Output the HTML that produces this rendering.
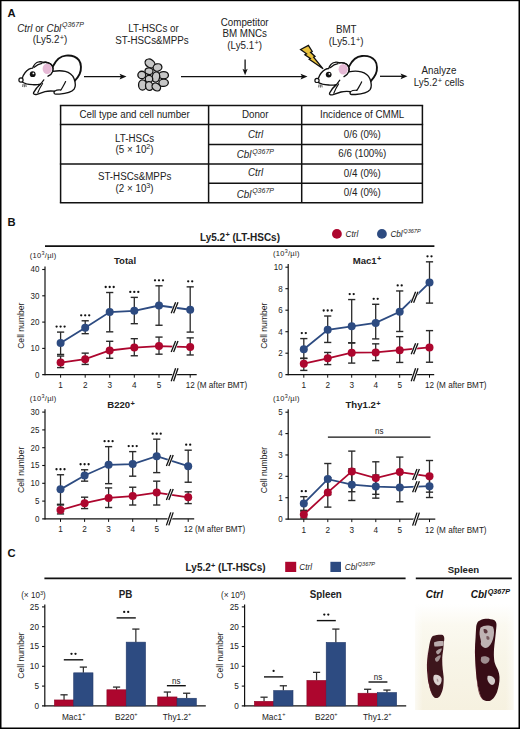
<!DOCTYPE html>
<html><head><meta charset="utf-8"><style>
html,body{margin:0;padding:0;background:#fff;width:520px;height:729px;overflow:hidden;}
body{position:relative;font-family:"Liberation Sans", sans-serif;}
</style></head><body>
<svg width="520" height="729" viewBox="0 0 520 729" style="position:absolute;left:0;top:0" font-family='"Liberation Sans", sans-serif'>
<rect x="0" y="0" width="520" height="729" fill="#fff"/>
<defs><filter id="pk" x="-30%" y="-30%" width="160%" height="160%"><feGaussianBlur stdDeviation="0.6"/></filter></defs>
<text transform="translate(7.4,17.2) scale(1,1.04)" x="0" y="0" font-size="11.2" text-anchor="start" font-weight="bold" font-style="normal" fill="#111" >A</text>
<text transform="translate(50.5,31.7) scale(1,1.04)" x="0" y="0" font-size="9.8" text-anchor="middle" font-weight="normal" font-style="normal" fill="#222" ><tspan font-style="italic">Ctrl</tspan> or <tspan font-style="italic">Cbl</tspan><tspan font-style="italic" font-size="7" dx="0.8" dy="-4.2">Q367P</tspan></text>
<text transform="translate(50,43.3) scale(1,1.04)" x="0" y="0" font-size="9.8" text-anchor="middle" font-weight="normal" font-style="normal" fill="#222" >(Ly5.2<tspan font-size="7.4" dx="0.3" dy="-3.2">+</tspan><tspan dy="3.2">)</tspan></text>
<text transform="translate(153.5,32.3) scale(1,1.04)" x="0" y="0" font-size="9.8" text-anchor="middle" font-weight="normal" font-style="normal" fill="#222" >LT-HSCs or</text>
<text transform="translate(152,43.8) scale(1,1.04)" x="0" y="0" font-size="9.8" text-anchor="middle" font-weight="normal" font-style="normal" fill="#222" >ST-HSCs&amp;MPPs</text>
<text transform="translate(244.7,25.8) scale(1,1.04)" x="0" y="0" font-size="9.8" text-anchor="middle" font-weight="normal" font-style="normal" fill="#222" >Competitor</text>
<text transform="translate(244.7,37.3) scale(1,1.04)" x="0" y="0" font-size="9.8" text-anchor="middle" font-weight="normal" font-style="normal" fill="#222" >BM MNCs</text>
<text transform="translate(244.7,48.8) scale(1,1.04)" x="0" y="0" font-size="9.8" text-anchor="middle" font-weight="normal" font-style="normal" fill="#222" >(Ly5.1<tspan font-size="7.4" dx="0.3" dy="-3.2">+</tspan><tspan dy="3.2">)</tspan></text>
<text transform="translate(346.2,33.2) scale(1,1.04)" x="0" y="0" font-size="9.8" text-anchor="middle" font-weight="normal" font-style="normal" fill="#222" >BMT</text>
<text transform="translate(346.2,44.9) scale(1,1.04)" x="0" y="0" font-size="9.8" text-anchor="middle" font-weight="normal" font-style="normal" fill="#222" >(Ly5.1<tspan font-size="7.4" dx="0.3" dy="-3.2">+</tspan><tspan dy="3.2">)</tspan></text>
<text transform="translate(439,73.7) scale(1,1.04)" x="0" y="0" font-size="9.8" text-anchor="middle" font-weight="normal" font-style="normal" fill="#222" >Analyze</text>
<text transform="translate(439,85.9) scale(1,1.04)" x="0" y="0" font-size="9.8" text-anchor="middle" font-weight="normal" font-style="normal" fill="#222" >Ly5.2<tspan font-size="7.4" dx="0.3" dy="-3.2">+</tspan><tspan dy="3.2"> cells</tspan></text>
<g transform="translate(0,0)" stroke="#111" stroke-linecap="round" stroke-linejoin="round">
<path d="M53.1,66 C56,60 61,56 66,55.6 C71,55.2 76,56.5 78.9,60.1 C81.5,63.5 81.5,70 79.7,73.8 C78.5,76.5 76.5,79 74.5,81.1" fill="none" stroke-width="1.9"/>
<path d="M22.3,78.1 C23.5,74.5 26,71 29,69.2 C30.5,68.4 31.8,68.1 32.7,68.1 C33.5,65.5 36,62.3 38.8,61.9 C40.5,61.6 42,61.8 43.5,62.5 C46.5,61.8 50.5,63 52.3,65.8 C53.3,67.5 53.2,70 52.7,71.4 C57,70.6 62,70.6 65.2,71.4 C68.5,72.2 72.5,75 74,78.5 C75.3,82 75.8,86.5 74.1,89.2 C72,91.8 66,93.6 59.5,94.1 L55.5,94.1 C54,94 53.6,92.5 54.5,91.2 C51,90.8 47.5,91 45,91.6 L37,94.3 C34.5,95 33,94 33.6,92.6 C35,90 37.5,86.5 40.4,84.2 C37.5,84.8 35,85 32.7,84.6 C29.5,84.3 27.5,84 26.5,83.8 C24.5,83.3 23,82.5 22.3,82 Z" fill="#fff" stroke-width="1.35"/>
<ellipse cx="47.2" cy="68.8" rx="4.6" ry="5.2" fill="#e5b9d5" stroke="none" filter="url(#pk)"/>
<path d="M43.5,62.5 C46.5,61.8 50.5,63 52.3,65.8 C53.3,67.5 53.2,70 52.7,71.4 C52,73.5 50,75.2 48,76.2" fill="none" stroke-width="1.35"/>
<path d="M34.2,67.3 C36.5,65.2 39.5,63.6 42,63.3" fill="none" stroke-width="1.2"/>
<path d="M40.4,84.2 C41.5,83 42.8,81.2 43.8,79.8" fill="none" stroke-width="1.2"/>
<path d="M42.6,83.5 C41,86 39.2,89 37.8,92.8" fill="none" stroke-width="1.1"/>
<path d="M65.6,81.5 C64.5,84 63.2,86 62.4,87.5 C61.8,88.6 61.2,89.4 60.8,90" fill="none" stroke-width="1.2"/>
<path d="M54.5,91.2 C56,90.3 58.5,89.6 60.8,90" fill="none" stroke-width="1.1"/>
<circle cx="32.7" cy="74.2" r="2.9" fill="#111" stroke="none"/>
<circle cx="33.4" cy="73.4" r="0.9" fill="#fff" stroke="none"/>
<circle cx="21" cy="80" r="2.1" fill="#fff" stroke-width="1.2"/>
<path d="M23,84.4 L22.7,86.6 M24.4,84.6 L24.4,86.8 M25.8,84.6 L26.1,86.6" fill="none" stroke-width="0.8" stroke="#333"/>
</g>
<g transform="translate(296,0.4)" stroke="#111" stroke-linecap="round" stroke-linejoin="round">
<path d="M53.1,66 C56,60 61,56 66,55.6 C71,55.2 76,56.5 78.9,60.1 C81.5,63.5 81.5,70 79.7,73.8 C78.5,76.5 76.5,79 74.5,81.1" fill="none" stroke-width="1.9"/>
<path d="M22.3,78.1 C23.5,74.5 26,71 29,69.2 C30.5,68.4 31.8,68.1 32.7,68.1 C33.5,65.5 36,62.3 38.8,61.9 C40.5,61.6 42,61.8 43.5,62.5 C46.5,61.8 50.5,63 52.3,65.8 C53.3,67.5 53.2,70 52.7,71.4 C57,70.6 62,70.6 65.2,71.4 C68.5,72.2 72.5,75 74,78.5 C75.3,82 75.8,86.5 74.1,89.2 C72,91.8 66,93.6 59.5,94.1 L55.5,94.1 C54,94 53.6,92.5 54.5,91.2 C51,90.8 47.5,91 45,91.6 L37,94.3 C34.5,95 33,94 33.6,92.6 C35,90 37.5,86.5 40.4,84.2 C37.5,84.8 35,85 32.7,84.6 C29.5,84.3 27.5,84 26.5,83.8 C24.5,83.3 23,82.5 22.3,82 Z" fill="#fff" stroke-width="1.35"/>
<ellipse cx="47.2" cy="68.8" rx="4.6" ry="5.2" fill="#e5b9d5" stroke="none" filter="url(#pk)"/>
<path d="M43.5,62.5 C46.5,61.8 50.5,63 52.3,65.8 C53.3,67.5 53.2,70 52.7,71.4 C52,73.5 50,75.2 48,76.2" fill="none" stroke-width="1.35"/>
<path d="M34.2,67.3 C36.5,65.2 39.5,63.6 42,63.3" fill="none" stroke-width="1.2"/>
<path d="M40.4,84.2 C41.5,83 42.8,81.2 43.8,79.8" fill="none" stroke-width="1.2"/>
<path d="M42.6,83.5 C41,86 39.2,89 37.8,92.8" fill="none" stroke-width="1.1"/>
<path d="M65.6,81.5 C64.5,84 63.2,86 62.4,87.5 C61.8,88.6 61.2,89.4 60.8,90" fill="none" stroke-width="1.2"/>
<path d="M54.5,91.2 C56,90.3 58.5,89.6 60.8,90" fill="none" stroke-width="1.1"/>
<circle cx="32.7" cy="74.2" r="2.9" fill="#111" stroke="none"/>
<circle cx="33.4" cy="73.4" r="0.9" fill="#fff" stroke="none"/>
<circle cx="21" cy="80" r="2.1" fill="#fff" stroke-width="1.2"/>
<path d="M23,84.4 L22.7,86.6 M24.4,84.6 L24.4,86.8 M25.8,84.6 L26.1,86.6" fill="none" stroke-width="0.8" stroke="#333"/>
</g>
<ellipse cx="150" cy="63.5" rx="5.25" ry="4.05" transform="rotate(35 150 63.5)" fill="#c6c6c6" stroke="#111" stroke-width="1.3"/>
<ellipse cx="157.5" cy="67.5" rx="4.45" ry="3.65" transform="rotate(-15 157.5 67.5)" fill="#c6c6c6" stroke="#111" stroke-width="1.3"/>
<ellipse cx="149" cy="71.2" rx="4.05" ry="3.35" transform="rotate(10 149 71.2)" fill="#c6c6c6" stroke="#111" stroke-width="1.3"/>
<ellipse cx="141.8" cy="75" rx="3.95" ry="3.75" transform="rotate(0 141.8 75)" fill="#c6c6c6" stroke="#111" stroke-width="1.3"/>
<ellipse cx="163.6" cy="75.2" rx="4.85" ry="3.65" transform="rotate(0 163.6 75.2)" fill="#c6c6c6" stroke="#111" stroke-width="1.3"/>
<ellipse cx="155.9" cy="77" rx="3.75" ry="5.25" transform="rotate(10 155.9 77)" fill="#c6c6c6" stroke="#111" stroke-width="1.3"/>
<ellipse cx="149" cy="79" rx="3.75" ry="3.65" transform="rotate(0 149 79)" fill="#c6c6c6" stroke="#111" stroke-width="1.3"/>
<ellipse cx="163.6" cy="82.8" rx="4.75" ry="3.65" transform="rotate(-5 163.6 82.8)" fill="#c6c6c6" stroke="#111" stroke-width="1.3"/>
<ellipse cx="142.5" cy="85" rx="3.95" ry="5.15" transform="rotate(0 142.5 85)" fill="#c6c6c6" stroke="#111" stroke-width="1.3"/>
<ellipse cx="149.2" cy="86" rx="3.65" ry="4.45" transform="rotate(-10 149.2 86)" fill="#c6c6c6" stroke="#111" stroke-width="1.3"/>
<ellipse cx="156.3" cy="87" rx="4.55" ry="3.55" transform="rotate(35 156.3 87)" fill="#c6c6c6" stroke="#111" stroke-width="1.3"/>
<line x1="84" y1="76.6" x2="121.5" y2="76.6" stroke="#111" stroke-width="1.3" />
<polygon points="126.5,76.6 119.5,73.69999999999999 121.0,76.6 119.5,79.5" fill="#111"/>
<line x1="181" y1="76.6" x2="302.5" y2="76.6" stroke="#111" stroke-width="1.3" />
<polygon points="307.5,76.6 300.5,73.69999999999999 302.0,76.6 300.5,79.5" fill="#111"/>
<line x1="245.1" y1="59.6" x2="245.1" y2="71.2" stroke="#111" stroke-width="1.3" />
<polygon points="245.1,75.2 242.5,68.7 245.1,70.2 247.7,68.7" fill="#111"/>
<line x1="380" y1="76.3" x2="402.5" y2="76.3" stroke="#111" stroke-width="1.3" />
<polygon points="407.5,76.3 400.5,73.39999999999999 402.0,76.3 400.5,79.2" fill="#111"/>
<polygon points="300.6,49.5 308.4,45.4 312.2,51.5 310.6,52.3 315,56.4 313.6,57.2 323.1,68.8 309.2,59.3 310.4,58.5 304.9,54.7 306.6,53.8" fill="#eac23c" stroke="#111" stroke-width="1.3" stroke-linejoin="miter"/>
<line x1="59.85" y1="105.4" x2="423.15" y2="105.4" stroke="#111" stroke-width="1.5" />
<line x1="59.85" y1="124.6" x2="423.15" y2="124.6" stroke="#111" stroke-width="1.5" />
<line x1="208.6" y1="144.4" x2="422.4" y2="144.4" stroke="#111" stroke-width="1.5" />
<line x1="59.85" y1="163.9" x2="423.15" y2="163.9" stroke="#111" stroke-width="1.5" />
<line x1="208.6" y1="183.3" x2="422.4" y2="183.3" stroke="#111" stroke-width="1.5" />
<line x1="59.85" y1="202.7" x2="423.15" y2="202.7" stroke="#111" stroke-width="1.5" />
<line x1="60.6" y1="105.4" x2="60.6" y2="202.7" stroke="#111" stroke-width="1.5" />
<line x1="208.6" y1="105.4" x2="208.6" y2="202.7" stroke="#111" stroke-width="1.5" />
<line x1="301.7" y1="105.4" x2="301.7" y2="202.7" stroke="#111" stroke-width="1.5" />
<line x1="422.4" y1="105.4" x2="422.4" y2="202.7" stroke="#111" stroke-width="1.5" />
<text transform="translate(134.6,118.4) scale(1,1.04)" x="0" y="0" font-size="9.8" text-anchor="middle" font-weight="normal" font-style="normal" fill="#222" >Cell type and cell number</text>
<text transform="translate(255.2,118.2) scale(1,1.04)" x="0" y="0" font-size="9.8" text-anchor="middle" font-weight="normal" font-style="normal" fill="#222" >Donor</text>
<text transform="translate(362.1,118.3) scale(1,1.04)" x="0" y="0" font-size="9.8" text-anchor="middle" font-weight="normal" font-style="normal" fill="#222" >Incidence of CMML</text>
<text transform="translate(134.6,141.5) scale(1,1.04)" x="0" y="0" font-size="9.8" text-anchor="middle" font-weight="normal" font-style="normal" fill="#222" >LT-HSCs</text>
<text transform="translate(134.6,152.9) scale(1,1.04)" x="0" y="0" font-size="9.8" text-anchor="middle" font-weight="normal" font-style="normal" fill="#222" >(5 × 10<tspan font-size="7.2" dy="-3.8">2</tspan><tspan dy="3.8">)</tspan></text>
<text transform="translate(134.6,180.4) scale(1,1.04)" x="0" y="0" font-size="9.8" text-anchor="middle" font-weight="normal" font-style="normal" fill="#222" >ST-HSCs&amp;MPPs</text>
<text transform="translate(134.6,191.9) scale(1,1.04)" x="0" y="0" font-size="9.8" text-anchor="middle" font-weight="normal" font-style="normal" fill="#222" >(2 × 10<tspan font-size="7.2" dy="-3.8">3</tspan><tspan dy="3.8">)</tspan></text>
<text transform="translate(255.6,138) scale(1,1.04)" x="0" y="0" font-size="9.8" text-anchor="middle" font-weight="normal" font-style="italic" fill="#222" >Ctrl</text>
<text transform="translate(255.6,176.4) scale(1,1.04)" x="0" y="0" font-size="9.8" text-anchor="middle" font-weight="normal" font-style="italic" fill="#222" >Ctrl</text>
<text transform="translate(255.3,158.3) scale(1,1.04)" x="0" y="0" font-size="9.8" text-anchor="middle" font-weight="normal" font-style="italic" fill="#222" >Cbl<tspan font-size="7" dx="0.8" dy="-4.4">Q367P</tspan></text>
<text transform="translate(255.3,197.7) scale(1,1.04)" x="0" y="0" font-size="9.8" text-anchor="middle" font-weight="normal" font-style="italic" fill="#222" >Cbl<tspan font-size="7" dx="0.8" dy="-4.4">Q367P</tspan></text>
<text transform="translate(362.3,137.5) scale(1,1.04)" x="0" y="0" font-size="9.8" text-anchor="middle" font-weight="normal" font-style="normal" fill="#222" >0/6 (0%)</text>
<text transform="translate(362.3,157.0) scale(1,1.04)" x="0" y="0" font-size="9.8" text-anchor="middle" font-weight="normal" font-style="normal" fill="#222" >6/6 (100%)</text>
<text transform="translate(362.3,176.8) scale(1,1.04)" x="0" y="0" font-size="9.8" text-anchor="middle" font-weight="normal" font-style="normal" fill="#222" >0/4 (0%)</text>
<text transform="translate(362.3,195.9) scale(1,1.04)" x="0" y="0" font-size="9.8" text-anchor="middle" font-weight="normal" font-style="normal" fill="#222" >0/4 (0%)</text>
<text transform="translate(7.6,225.6) scale(1,1.04)" x="0" y="0" font-size="11.2" text-anchor="start" font-weight="bold" font-style="normal" fill="#111" >B</text>
<line x1="45" y1="246.1" x2="434.4" y2="246.1" stroke="#111" stroke-width="1.7" />
<text transform="translate(240,240.8) scale(1,1.04)" x="0" y="0" font-size="10" text-anchor="middle" font-weight="bold" font-style="normal" fill="#222" >Ly5.2<tspan font-size="7.4" dx="0.2" dy="-3.4">+</tspan><tspan dy="3.4"> (LT-HSCs)</tspan></text>
<circle cx="336.9" cy="233.9" r="4.9" fill="#ad062e"/>
<circle cx="381.9" cy="233.9" r="4.9" fill="#2d4b81"/>
<text transform="translate(345.5,237.2) scale(1,1.04)" x="0" y="0" font-size="8.2" text-anchor="start" font-weight="normal" font-style="italic" fill="#222" >Ctrl</text>
<text transform="translate(390.4,237.2) scale(1,1.04)" x="0" y="0" font-size="8.2" text-anchor="start" font-weight="normal" font-style="italic" fill="#222" >Cbl<tspan font-size="5.6" dx="0.6" dy="-3.6">Q367P</tspan></text>
<line x1="45" y1="266.5" x2="45" y2="375.2" stroke="#111" stroke-width="1.2" />
<line x1="42.2" y1="374.7" x2="196.7" y2="374.7" stroke="#111" stroke-width="1.2" />
<text transform="translate(39.4,377.5) scale(1,1.04)" x="0" y="0" font-size="8" text-anchor="end" font-weight="normal" font-style="normal" fill="#222" >0</text>
<line x1="42.2" y1="348.4" x2="45" y2="348.4" stroke="#111" stroke-width="1.1" />
<text transform="translate(39.4,351.2) scale(1,1.04)" x="0" y="0" font-size="8" text-anchor="end" font-weight="normal" font-style="normal" fill="#222" >10</text>
<line x1="42.2" y1="322.1" x2="45" y2="322.1" stroke="#111" stroke-width="1.1" />
<text transform="translate(39.4,324.90000000000003) scale(1,1.04)" x="0" y="0" font-size="8" text-anchor="end" font-weight="normal" font-style="normal" fill="#222" >20</text>
<line x1="42.2" y1="295.8" x2="45" y2="295.8" stroke="#111" stroke-width="1.1" />
<text transform="translate(39.4,298.6) scale(1,1.04)" x="0" y="0" font-size="8" text-anchor="end" font-weight="normal" font-style="normal" fill="#222" >30</text>
<line x1="42.2" y1="269.5" x2="45" y2="269.5" stroke="#111" stroke-width="1.1" />
<text transform="translate(39.4,272.3) scale(1,1.04)" x="0" y="0" font-size="8" text-anchor="end" font-weight="normal" font-style="normal" fill="#222" >40</text>
<line x1="60.6" y1="374.7" x2="60.6" y2="377.7" stroke="#111" stroke-width="1" />
<line x1="85.2" y1="374.7" x2="85.2" y2="377.7" stroke="#111" stroke-width="1" />
<line x1="109.7" y1="374.7" x2="109.7" y2="377.7" stroke="#111" stroke-width="1" />
<line x1="134.3" y1="374.7" x2="134.3" y2="377.7" stroke="#111" stroke-width="1" />
<line x1="159" y1="374.7" x2="159" y2="377.7" stroke="#111" stroke-width="1" />
<line x1="190.2" y1="374.7" x2="190.2" y2="377.7" stroke="#111" stroke-width="1" />
<text transform="translate(60.6,388.09999999999997) scale(1,1.04)" x="0" y="0" font-size="8.2" text-anchor="middle" font-weight="normal" font-style="normal" fill="#222" >1</text>
<text transform="translate(85.2,388.09999999999997) scale(1,1.04)" x="0" y="0" font-size="8.2" text-anchor="middle" font-weight="normal" font-style="normal" fill="#222" >2</text>
<text transform="translate(109.7,388.09999999999997) scale(1,1.04)" x="0" y="0" font-size="8.2" text-anchor="middle" font-weight="normal" font-style="normal" fill="#222" >3</text>
<text transform="translate(134.3,388.09999999999997) scale(1,1.04)" x="0" y="0" font-size="8.2" text-anchor="middle" font-weight="normal" font-style="normal" fill="#222" >4</text>
<text transform="translate(159,388.09999999999997) scale(1,1.04)" x="0" y="0" font-size="8.2" text-anchor="middle" font-weight="normal" font-style="normal" fill="#222" >5</text>
<text transform="translate(185.79999999999998,388.09999999999997) scale(1,1.04)" x="0" y="0" font-size="8.15" text-anchor="start" font-weight="normal" font-style="normal" fill="#222" >12 (M after BMT)</text>
<polygon points="170.0,381.2 174.39999999999998,368.2 179.2,368.2 174.8,381.2" fill="white"/>
<line x1="171.20000000000002" y1="381.2" x2="175.6" y2="368.2" stroke="#111" stroke-width="1.3" />
<line x1="173.6" y1="381.2" x2="177.99999999999997" y2="368.2" stroke="#111" stroke-width="1.3" />
<text x="0" y="0" font-size="8.6" text-anchor="middle" fill="#222" transform="translate(23.7,325.7) rotate(-90) scale(1,1.04)">Cell number</text>
<text transform="translate(29.8,258.1) scale(1,1.04)" x="0" y="0" font-size="7.5" text-anchor="start" font-weight="normal" font-style="normal" fill="#222" letter-spacing="0.3">(10<tspan font-size="5.4" dy="-2.7">3</tspan><tspan dy="2.7">/µl)</tspan></text>
<text transform="translate(125,263.8) scale(1,1.04)" x="0" y="0" font-size="9.6" text-anchor="middle" font-weight="bold" font-style="normal" fill="#222" >Total</text>
<line x1="60.6" y1="356.027" x2="60.6" y2="367.599" stroke="#2a2a2a" stroke-width="1.3" />
<line x1="57.0" y1="356.027" x2="64.2" y2="356.027" stroke="#2a2a2a" stroke-width="1.4" />
<line x1="57.0" y1="367.599" x2="64.2" y2="367.599" stroke="#2a2a2a" stroke-width="1.4" />
<line x1="85.2" y1="353.134" x2="85.2" y2="364.443" stroke="#2a2a2a" stroke-width="1.3" />
<line x1="81.60000000000001" y1="353.134" x2="88.8" y2="353.134" stroke="#2a2a2a" stroke-width="1.4" />
<line x1="81.60000000000001" y1="364.443" x2="88.8" y2="364.443" stroke="#2a2a2a" stroke-width="1.4" />
<line x1="109.7" y1="341.299" x2="109.7" y2="358.2625" stroke="#2a2a2a" stroke-width="1.3" />
<line x1="106.10000000000001" y1="341.299" x2="113.3" y2="341.299" stroke="#2a2a2a" stroke-width="1.4" />
<line x1="106.10000000000001" y1="358.2625" x2="113.3" y2="358.2625" stroke="#2a2a2a" stroke-width="1.4" />
<line x1="134.3" y1="338.669" x2="134.3" y2="355.764" stroke="#2a2a2a" stroke-width="1.3" />
<line x1="130.70000000000002" y1="338.669" x2="137.9" y2="338.669" stroke="#2a2a2a" stroke-width="1.4" />
<line x1="130.70000000000002" y1="355.764" x2="137.9" y2="355.764" stroke="#2a2a2a" stroke-width="1.4" />
<line x1="159" y1="337.091" x2="159" y2="354.186" stroke="#2a2a2a" stroke-width="1.3" />
<line x1="155.4" y1="337.091" x2="162.6" y2="337.091" stroke="#2a2a2a" stroke-width="1.4" />
<line x1="155.4" y1="354.186" x2="162.6" y2="354.186" stroke="#2a2a2a" stroke-width="1.4" />
<line x1="190.2" y1="337.88" x2="190.2" y2="354.97499999999997" stroke="#2a2a2a" stroke-width="1.3" />
<line x1="186.6" y1="337.88" x2="193.79999999999998" y2="337.88" stroke="#2a2a2a" stroke-width="1.4" />
<line x1="186.6" y1="354.97499999999997" x2="193.79999999999998" y2="354.97499999999997" stroke="#2a2a2a" stroke-width="1.4" />
<line x1="60.6" y1="332.094" x2="60.6" y2="354.449" stroke="#2a2a2a" stroke-width="1.3" />
<line x1="57.0" y1="332.094" x2="64.2" y2="332.094" stroke="#2a2a2a" stroke-width="1.4" />
<line x1="57.0" y1="354.449" x2="64.2" y2="354.449" stroke="#2a2a2a" stroke-width="1.4" />
<line x1="85.2" y1="320.78499999999997" x2="85.2" y2="333.67199999999997" stroke="#2a2a2a" stroke-width="1.3" />
<line x1="81.60000000000001" y1="320.78499999999997" x2="88.8" y2="320.78499999999997" stroke="#2a2a2a" stroke-width="1.4" />
<line x1="81.60000000000001" y1="333.67199999999997" x2="88.8" y2="333.67199999999997" stroke="#2a2a2a" stroke-width="1.4" />
<line x1="109.7" y1="292.5125" x2="109.7" y2="331.831" stroke="#2a2a2a" stroke-width="1.3" />
<line x1="106.10000000000001" y1="292.5125" x2="113.3" y2="292.5125" stroke="#2a2a2a" stroke-width="1.4" />
<line x1="106.10000000000001" y1="331.831" x2="113.3" y2="331.831" stroke="#2a2a2a" stroke-width="1.4" />
<line x1="134.3" y1="297.378" x2="134.3" y2="323.678" stroke="#2a2a2a" stroke-width="1.3" />
<line x1="130.70000000000002" y1="297.378" x2="137.9" y2="297.378" stroke="#2a2a2a" stroke-width="1.4" />
<line x1="130.70000000000002" y1="323.678" x2="137.9" y2="323.678" stroke="#2a2a2a" stroke-width="1.4" />
<line x1="159" y1="285.806" x2="159" y2="325.256" stroke="#2a2a2a" stroke-width="1.3" />
<line x1="155.4" y1="285.806" x2="162.6" y2="285.806" stroke="#2a2a2a" stroke-width="1.4" />
<line x1="155.4" y1="325.256" x2="162.6" y2="325.256" stroke="#2a2a2a" stroke-width="1.4" />
<line x1="190.2" y1="286.858" x2="190.2" y2="332.094" stroke="#2a2a2a" stroke-width="1.3" />
<line x1="186.6" y1="286.858" x2="193.79999999999998" y2="286.858" stroke="#2a2a2a" stroke-width="1.4" />
<line x1="186.6" y1="332.094" x2="193.79999999999998" y2="332.094" stroke="#2a2a2a" stroke-width="1.4" />
<polyline points="60.6,362.602 85.2,359.183 109.7,350.504 134.3,347.611 159,346.033 190.2,347.085" fill="none" stroke="#ad062e" stroke-width="1.8"/>
<polygon points="170.0,352.05899999999997 174.39999999999998,341.05899999999997 179.2,341.05899999999997 174.8,352.05899999999997" fill="white"/>
<line x1="171.20000000000002" y1="352.05899999999997" x2="175.6" y2="341.05899999999997" stroke="#111" stroke-width="1.3" />
<line x1="173.6" y1="352.05899999999997" x2="177.99999999999997" y2="341.05899999999997" stroke="#111" stroke-width="1.3" />
<circle cx="60.6" cy="362.602" r="4" fill="#ad062e"/>
<circle cx="85.2" cy="359.183" r="4" fill="#ad062e"/>
<circle cx="109.7" cy="350.504" r="4" fill="#ad062e"/>
<circle cx="134.3" cy="347.611" r="4" fill="#ad062e"/>
<circle cx="159" cy="346.033" r="4" fill="#ad062e"/>
<circle cx="190.2" cy="347.085" r="4" fill="#ad062e"/>
<polyline points="60.6,343.00849999999997 85.2,327.7545 109.7,312.106 134.3,310.791 159,305.531 190.2,309.739" fill="none" stroke="#2d4b81" stroke-width="1.8"/>
<polygon points="170.0,313.135 174.39999999999998,302.135 179.2,302.135 174.8,313.135" fill="white"/>
<line x1="171.20000000000002" y1="313.135" x2="175.6" y2="302.135" stroke="#111" stroke-width="1.3" />
<line x1="173.6" y1="313.135" x2="177.99999999999997" y2="302.135" stroke="#111" stroke-width="1.3" />
<circle cx="60.6" cy="343.00849999999997" r="4" fill="#2d4b81"/>
<circle cx="85.2" cy="327.7545" r="4" fill="#2d4b81"/>
<circle cx="109.7" cy="312.106" r="4" fill="#2d4b81"/>
<circle cx="134.3" cy="310.791" r="4" fill="#2d4b81"/>
<circle cx="159" cy="305.531" r="4" fill="#2d4b81"/>
<circle cx="190.2" cy="309.739" r="4" fill="#2d4b81"/>
<circle cx="56.60" cy="326.59" r="1.15" fill="#111"/>
<circle cx="60.60" cy="326.59" r="1.15" fill="#111"/>
<circle cx="64.60" cy="326.59" r="1.15" fill="#111"/>
<circle cx="81.20" cy="315.28" r="1.15" fill="#111"/>
<circle cx="85.20" cy="315.28" r="1.15" fill="#111"/>
<circle cx="89.20" cy="315.28" r="1.15" fill="#111"/>
<circle cx="105.70" cy="287.01" r="1.15" fill="#111"/>
<circle cx="109.70" cy="287.01" r="1.15" fill="#111"/>
<circle cx="113.70" cy="287.01" r="1.15" fill="#111"/>
<circle cx="130.30" cy="291.88" r="1.15" fill="#111"/>
<circle cx="134.30" cy="291.88" r="1.15" fill="#111"/>
<circle cx="138.30" cy="291.88" r="1.15" fill="#111"/>
<circle cx="155.00" cy="280.31" r="1.15" fill="#111"/>
<circle cx="159.00" cy="280.31" r="1.15" fill="#111"/>
<circle cx="163.00" cy="280.31" r="1.15" fill="#111"/>
<circle cx="188.20" cy="281.36" r="1.15" fill="#111"/>
<circle cx="192.20" cy="281.36" r="1.15" fill="#111"/>
<line x1="288.2" y1="264.1" x2="288.2" y2="375.2" stroke="#111" stroke-width="1.2" />
<line x1="285.4" y1="374.7" x2="434.2" y2="374.7" stroke="#111" stroke-width="1.2" />
<text transform="translate(282.59999999999997,377.5) scale(1,1.04)" x="0" y="0" font-size="8" text-anchor="end" font-weight="normal" font-style="normal" fill="#222" >0</text>
<line x1="285.4" y1="353.2" x2="288.2" y2="353.2" stroke="#111" stroke-width="1.1" />
<text transform="translate(282.59999999999997,356.0) scale(1,1.04)" x="0" y="0" font-size="8" text-anchor="end" font-weight="normal" font-style="normal" fill="#222" >2</text>
<line x1="285.4" y1="331.7" x2="288.2" y2="331.7" stroke="#111" stroke-width="1.1" />
<text transform="translate(282.59999999999997,334.5) scale(1,1.04)" x="0" y="0" font-size="8" text-anchor="end" font-weight="normal" font-style="normal" fill="#222" >4</text>
<line x1="285.4" y1="310.2" x2="288.2" y2="310.2" stroke="#111" stroke-width="1.1" />
<text transform="translate(282.59999999999997,313.0) scale(1,1.04)" x="0" y="0" font-size="8" text-anchor="end" font-weight="normal" font-style="normal" fill="#222" >6</text>
<line x1="285.4" y1="288.7" x2="288.2" y2="288.7" stroke="#111" stroke-width="1.1" />
<text transform="translate(282.59999999999997,291.5) scale(1,1.04)" x="0" y="0" font-size="8" text-anchor="end" font-weight="normal" font-style="normal" fill="#222" >8</text>
<line x1="285.4" y1="267.2" x2="288.2" y2="267.2" stroke="#111" stroke-width="1.1" />
<text transform="translate(282.59999999999997,270.0) scale(1,1.04)" x="0" y="0" font-size="8" text-anchor="end" font-weight="normal" font-style="normal" fill="#222" >10</text>
<line x1="303.8" y1="374.7" x2="303.8" y2="377.7" stroke="#111" stroke-width="1" />
<line x1="327.7" y1="374.7" x2="327.7" y2="377.7" stroke="#111" stroke-width="1" />
<line x1="351.7" y1="374.7" x2="351.7" y2="377.7" stroke="#111" stroke-width="1" />
<line x1="375.7" y1="374.7" x2="375.7" y2="377.7" stroke="#111" stroke-width="1" />
<line x1="399.7" y1="374.7" x2="399.7" y2="377.7" stroke="#111" stroke-width="1" />
<line x1="429.5" y1="374.7" x2="429.5" y2="377.7" stroke="#111" stroke-width="1" />
<text transform="translate(303.8,388.09999999999997) scale(1,1.04)" x="0" y="0" font-size="8.2" text-anchor="middle" font-weight="normal" font-style="normal" fill="#222" >1</text>
<text transform="translate(327.7,388.09999999999997) scale(1,1.04)" x="0" y="0" font-size="8.2" text-anchor="middle" font-weight="normal" font-style="normal" fill="#222" >2</text>
<text transform="translate(351.7,388.09999999999997) scale(1,1.04)" x="0" y="0" font-size="8.2" text-anchor="middle" font-weight="normal" font-style="normal" fill="#222" >3</text>
<text transform="translate(375.7,388.09999999999997) scale(1,1.04)" x="0" y="0" font-size="8.2" text-anchor="middle" font-weight="normal" font-style="normal" fill="#222" >4</text>
<text transform="translate(399.7,388.09999999999997) scale(1,1.04)" x="0" y="0" font-size="8.2" text-anchor="middle" font-weight="normal" font-style="normal" fill="#222" >5</text>
<text transform="translate(425.1,388.09999999999997) scale(1,1.04)" x="0" y="0" font-size="8.15" text-anchor="start" font-weight="normal" font-style="normal" fill="#222" >12 (M after BMT)</text>
<polygon points="410.00000000000006,381.2 414.40000000000003,368.2 419.2,368.2 414.8,381.2" fill="white"/>
<line x1="411.20000000000005" y1="381.2" x2="415.6" y2="368.2" stroke="#111" stroke-width="1.3" />
<line x1="413.6" y1="381.2" x2="418.0" y2="368.2" stroke="#111" stroke-width="1.3" />
<text x="0" y="0" font-size="8.6" text-anchor="middle" fill="#222" transform="translate(266.9,325.7) rotate(-90) scale(1,1.04)">Cell number</text>
<text transform="translate(272.9,255.79999999999998) scale(1,1.04)" x="0" y="0" font-size="7.5" text-anchor="start" font-weight="normal" font-style="normal" fill="#222" letter-spacing="0.3">(10<tspan font-size="5.4" dy="-2.7">3</tspan><tspan dy="2.7">/µl)</tspan></text>
<text transform="translate(367,263.5) scale(1,1.04)" x="0" y="0" font-size="9.6" text-anchor="middle" font-weight="bold" font-style="normal" fill="#222" >Mac1<tspan font-size="7.4" dx="0.3" dy="-2.0">+</tspan></text>
<line x1="303.8" y1="358.4675" x2="303.8" y2="370.4" stroke="#2a2a2a" stroke-width="1.3" />
<line x1="300.2" y1="358.4675" x2="307.40000000000003" y2="358.4675" stroke="#2a2a2a" stroke-width="1.4" />
<line x1="300.2" y1="370.4" x2="307.40000000000003" y2="370.4" stroke="#2a2a2a" stroke-width="1.4" />
<line x1="327.7" y1="352.4475" x2="327.7" y2="364.59499999999997" stroke="#2a2a2a" stroke-width="1.3" />
<line x1="324.09999999999997" y1="352.4475" x2="331.3" y2="352.4475" stroke="#2a2a2a" stroke-width="1.4" />
<line x1="324.09999999999997" y1="364.59499999999997" x2="331.3" y2="364.59499999999997" stroke="#2a2a2a" stroke-width="1.4" />
<line x1="351.7" y1="342.7725" x2="351.7" y2="363.09" stroke="#2a2a2a" stroke-width="1.3" />
<line x1="348.09999999999997" y1="342.7725" x2="355.3" y2="342.7725" stroke="#2a2a2a" stroke-width="1.4" />
<line x1="348.09999999999997" y1="363.09" x2="355.3" y2="363.09" stroke="#2a2a2a" stroke-width="1.4" />
<line x1="375.7" y1="343.84749999999997" x2="375.7" y2="360.6175" stroke="#2a2a2a" stroke-width="1.3" />
<line x1="372.09999999999997" y1="343.84749999999997" x2="379.3" y2="343.84749999999997" stroke="#2a2a2a" stroke-width="1.4" />
<line x1="372.09999999999997" y1="360.6175" x2="379.3" y2="360.6175" stroke="#2a2a2a" stroke-width="1.4" />
<line x1="399.7" y1="336.645" x2="399.7" y2="362.445" stroke="#2a2a2a" stroke-width="1.3" />
<line x1="396.09999999999997" y1="336.645" x2="403.3" y2="336.645" stroke="#2a2a2a" stroke-width="1.4" />
<line x1="396.09999999999997" y1="362.445" x2="403.3" y2="362.445" stroke="#2a2a2a" stroke-width="1.4" />
<line x1="429.5" y1="330.625" x2="429.5" y2="362.23" stroke="#2a2a2a" stroke-width="1.3" />
<line x1="425.9" y1="330.625" x2="433.1" y2="330.625" stroke="#2a2a2a" stroke-width="1.4" />
<line x1="425.9" y1="362.23" x2="433.1" y2="362.23" stroke="#2a2a2a" stroke-width="1.4" />
<line x1="303.8" y1="338.58" x2="303.8" y2="358.2525" stroke="#2a2a2a" stroke-width="1.3" />
<line x1="300.2" y1="338.58" x2="307.40000000000003" y2="338.58" stroke="#2a2a2a" stroke-width="1.4" />
<line x1="300.2" y1="358.2525" x2="307.40000000000003" y2="358.2525" stroke="#2a2a2a" stroke-width="1.4" />
<line x1="327.7" y1="316.005" x2="327.7" y2="342.45" stroke="#2a2a2a" stroke-width="1.3" />
<line x1="324.09999999999997" y1="316.005" x2="331.3" y2="316.005" stroke="#2a2a2a" stroke-width="1.4" />
<line x1="324.09999999999997" y1="342.45" x2="331.3" y2="342.45" stroke="#2a2a2a" stroke-width="1.4" />
<line x1="351.7" y1="299.5575" x2="351.7" y2="342.9875" stroke="#2a2a2a" stroke-width="1.3" />
<line x1="348.09999999999997" y1="299.5575" x2="355.3" y2="299.5575" stroke="#2a2a2a" stroke-width="1.4" />
<line x1="348.09999999999997" y1="342.9875" x2="355.3" y2="342.9875" stroke="#2a2a2a" stroke-width="1.4" />
<line x1="375.7" y1="304.2875" x2="375.7" y2="338.9025" stroke="#2a2a2a" stroke-width="1.3" />
<line x1="372.09999999999997" y1="304.2875" x2="379.3" y2="304.2875" stroke="#2a2a2a" stroke-width="1.4" />
<line x1="372.09999999999997" y1="338.9025" x2="379.3" y2="338.9025" stroke="#2a2a2a" stroke-width="1.4" />
<line x1="399.7" y1="290.9575" x2="399.7" y2="331.485" stroke="#2a2a2a" stroke-width="1.3" />
<line x1="396.09999999999997" y1="290.9575" x2="403.3" y2="290.9575" stroke="#2a2a2a" stroke-width="1.4" />
<line x1="396.09999999999997" y1="331.485" x2="403.3" y2="331.485" stroke="#2a2a2a" stroke-width="1.4" />
<line x1="429.5" y1="261.825" x2="429.5" y2="303.105" stroke="#2a2a2a" stroke-width="1.3" />
<line x1="425.9" y1="261.825" x2="433.1" y2="261.825" stroke="#2a2a2a" stroke-width="1.4" />
<line x1="425.9" y1="303.105" x2="433.1" y2="303.105" stroke="#2a2a2a" stroke-width="1.4" />
<polyline points="303.8,363.735 327.7,358.36 351.7,352.66249999999997 375.7,352.4475 399.7,350.19 429.5,347.395" fill="none" stroke="#ad062e" stroke-width="1.8"/>
<polygon points="410.00000000000006,354.29249999999996 414.40000000000003,343.29249999999996 419.2,343.29249999999996 414.8,354.29249999999996" fill="white"/>
<line x1="411.20000000000005" y1="354.29249999999996" x2="415.6" y2="343.29249999999996" stroke="#111" stroke-width="1.3" />
<line x1="413.6" y1="354.29249999999996" x2="418.0" y2="343.29249999999996" stroke="#111" stroke-width="1.3" />
<circle cx="303.8" cy="363.735" r="4" fill="#ad062e"/>
<circle cx="327.7" cy="358.36" r="4" fill="#ad062e"/>
<circle cx="351.7" cy="352.66249999999997" r="4" fill="#ad062e"/>
<circle cx="375.7" cy="352.4475" r="4" fill="#ad062e"/>
<circle cx="399.7" cy="350.19" r="4" fill="#ad062e"/>
<circle cx="429.5" cy="347.395" r="4" fill="#ad062e"/>
<polyline points="303.8,349.22249999999997 327.7,329.8725 351.7,326.325 375.7,322.885 399.7,311.705 429.5,282.5725" fill="none" stroke="#2d4b81" stroke-width="1.8"/>
<polygon points="410.00000000000006,302.63874999999996 414.40000000000003,291.63874999999996 419.2,291.63874999999996 414.8,302.63874999999996" fill="white"/>
<line x1="411.20000000000005" y1="302.63874999999996" x2="415.6" y2="291.63874999999996" stroke="#111" stroke-width="1.3" />
<line x1="413.6" y1="302.63874999999996" x2="418.0" y2="291.63874999999996" stroke="#111" stroke-width="1.3" />
<circle cx="303.8" cy="349.22249999999997" r="4" fill="#2d4b81"/>
<circle cx="327.7" cy="329.8725" r="4" fill="#2d4b81"/>
<circle cx="351.7" cy="326.325" r="4" fill="#2d4b81"/>
<circle cx="375.7" cy="322.885" r="4" fill="#2d4b81"/>
<circle cx="399.7" cy="311.705" r="4" fill="#2d4b81"/>
<circle cx="429.5" cy="282.5725" r="4" fill="#2d4b81"/>
<circle cx="301.80" cy="333.08" r="1.15" fill="#111"/>
<circle cx="305.80" cy="333.08" r="1.15" fill="#111"/>
<circle cx="323.70" cy="310.50" r="1.15" fill="#111"/>
<circle cx="327.70" cy="310.50" r="1.15" fill="#111"/>
<circle cx="331.70" cy="310.50" r="1.15" fill="#111"/>
<circle cx="349.70" cy="294.06" r="1.15" fill="#111"/>
<circle cx="353.70" cy="294.06" r="1.15" fill="#111"/>
<circle cx="373.70" cy="298.79" r="1.15" fill="#111"/>
<circle cx="377.70" cy="298.79" r="1.15" fill="#111"/>
<circle cx="397.70" cy="285.46" r="1.15" fill="#111"/>
<circle cx="401.70" cy="285.46" r="1.15" fill="#111"/>
<circle cx="427.50" cy="256.32" r="1.15" fill="#111"/>
<circle cx="431.50" cy="256.32" r="1.15" fill="#111"/>
<line x1="45" y1="409.2" x2="45" y2="519.4" stroke="#111" stroke-width="1.2" />
<line x1="42.2" y1="518.9" x2="194.2" y2="518.9" stroke="#111" stroke-width="1.2" />
<text transform="translate(39.4,521.6999999999999) scale(1,1.04)" x="0" y="0" font-size="8" text-anchor="end" font-weight="normal" font-style="normal" fill="#222" >0</text>
<line x1="42.2" y1="501.09999999999997" x2="45" y2="501.09999999999997" stroke="#111" stroke-width="1.1" />
<text transform="translate(39.4,503.9) scale(1,1.04)" x="0" y="0" font-size="8" text-anchor="end" font-weight="normal" font-style="normal" fill="#222" >5</text>
<line x1="42.2" y1="483.3" x2="45" y2="483.3" stroke="#111" stroke-width="1.1" />
<text transform="translate(39.4,486.1) scale(1,1.04)" x="0" y="0" font-size="8" text-anchor="end" font-weight="normal" font-style="normal" fill="#222" >10</text>
<line x1="42.2" y1="465.5" x2="45" y2="465.5" stroke="#111" stroke-width="1.1" />
<text transform="translate(39.4,468.3) scale(1,1.04)" x="0" y="0" font-size="8" text-anchor="end" font-weight="normal" font-style="normal" fill="#222" >15</text>
<line x1="42.2" y1="447.70000000000005" x2="45" y2="447.70000000000005" stroke="#111" stroke-width="1.1" />
<text transform="translate(39.4,450.50000000000006) scale(1,1.04)" x="0" y="0" font-size="8" text-anchor="end" font-weight="normal" font-style="normal" fill="#222" >20</text>
<line x1="42.2" y1="429.90000000000003" x2="45" y2="429.90000000000003" stroke="#111" stroke-width="1.1" />
<text transform="translate(39.4,432.70000000000005) scale(1,1.04)" x="0" y="0" font-size="8" text-anchor="end" font-weight="normal" font-style="normal" fill="#222" >25</text>
<line x1="42.2" y1="412.1" x2="45" y2="412.1" stroke="#111" stroke-width="1.1" />
<text transform="translate(39.4,414.90000000000003) scale(1,1.04)" x="0" y="0" font-size="8" text-anchor="end" font-weight="normal" font-style="normal" fill="#222" >30</text>
<line x1="60.5" y1="518.9" x2="60.5" y2="521.9" stroke="#111" stroke-width="1" />
<line x1="84.6" y1="518.9" x2="84.6" y2="521.9" stroke="#111" stroke-width="1" />
<line x1="108.6" y1="518.9" x2="108.6" y2="521.9" stroke="#111" stroke-width="1" />
<line x1="132.7" y1="518.9" x2="132.7" y2="521.9" stroke="#111" stroke-width="1" />
<line x1="156.7" y1="518.9" x2="156.7" y2="521.9" stroke="#111" stroke-width="1" />
<line x1="188.2" y1="518.9" x2="188.2" y2="521.9" stroke="#111" stroke-width="1" />
<text transform="translate(60.5,532.3) scale(1,1.04)" x="0" y="0" font-size="8.2" text-anchor="middle" font-weight="normal" font-style="normal" fill="#222" >1</text>
<text transform="translate(84.6,532.3) scale(1,1.04)" x="0" y="0" font-size="8.2" text-anchor="middle" font-weight="normal" font-style="normal" fill="#222" >2</text>
<text transform="translate(108.6,532.3) scale(1,1.04)" x="0" y="0" font-size="8.2" text-anchor="middle" font-weight="normal" font-style="normal" fill="#222" >3</text>
<text transform="translate(132.7,532.3) scale(1,1.04)" x="0" y="0" font-size="8.2" text-anchor="middle" font-weight="normal" font-style="normal" fill="#222" >4</text>
<text transform="translate(156.7,532.3) scale(1,1.04)" x="0" y="0" font-size="8.2" text-anchor="middle" font-weight="normal" font-style="normal" fill="#222" >5</text>
<text transform="translate(183.79999999999998,532.3) scale(1,1.04)" x="0" y="0" font-size="8.15" text-anchor="start" font-weight="normal" font-style="normal" fill="#222" >12 (M after BMT)</text>
<polygon points="165.20000000000002,525.4 169.6,512.4 174.4,512.4 170.00000000000003,525.4" fill="white"/>
<line x1="166.40000000000003" y1="525.4" x2="170.8" y2="512.4" stroke="#111" stroke-width="1.3" />
<line x1="168.8" y1="525.4" x2="173.2" y2="512.4" stroke="#111" stroke-width="1.3" />
<text x="0" y="0" font-size="8.6" text-anchor="middle" fill="#222" transform="translate(23.7,469.9) rotate(-90) scale(1,1.04)">Cell number</text>
<text transform="translate(29.8,400.70000000000005) scale(1,1.04)" x="0" y="0" font-size="7.5" text-anchor="start" font-weight="normal" font-style="normal" fill="#222" letter-spacing="0.3">(10<tspan font-size="5.4" dy="-2.7">3</tspan><tspan dy="2.7">/µl)</tspan></text>
<text transform="translate(121,408) scale(1,1.04)" x="0" y="0" font-size="9.6" text-anchor="middle" font-weight="bold" font-style="normal" fill="#222" >B220<tspan font-size="7.4" dx="0.3" dy="-2.0">+</tspan></text>
<line x1="60.5" y1="504.304" x2="60.5" y2="513.9159999999999" stroke="#2a2a2a" stroke-width="1.3" />
<line x1="56.9" y1="504.304" x2="64.1" y2="504.304" stroke="#2a2a2a" stroke-width="1.4" />
<line x1="56.9" y1="513.9159999999999" x2="64.1" y2="513.9159999999999" stroke="#2a2a2a" stroke-width="1.4" />
<line x1="84.6" y1="497.18399999999997" x2="84.6" y2="508.57599999999996" stroke="#2a2a2a" stroke-width="1.3" />
<line x1="81.0" y1="497.18399999999997" x2="88.19999999999999" y2="497.18399999999997" stroke="#2a2a2a" stroke-width="1.4" />
<line x1="81.0" y1="508.57599999999996" x2="88.19999999999999" y2="508.57599999999996" stroke="#2a2a2a" stroke-width="1.4" />
<line x1="108.6" y1="487.928" x2="108.6" y2="507.508" stroke="#2a2a2a" stroke-width="1.3" />
<line x1="105.0" y1="487.928" x2="112.19999999999999" y2="487.928" stroke="#2a2a2a" stroke-width="1.4" />
<line x1="105.0" y1="507.508" x2="112.19999999999999" y2="507.508" stroke="#2a2a2a" stroke-width="1.4" />
<line x1="132.7" y1="487.216" x2="132.7" y2="505.01599999999996" stroke="#2a2a2a" stroke-width="1.3" />
<line x1="129.1" y1="487.216" x2="136.29999999999998" y2="487.216" stroke="#2a2a2a" stroke-width="1.4" />
<line x1="129.1" y1="505.01599999999996" x2="136.29999999999998" y2="505.01599999999996" stroke="#2a2a2a" stroke-width="1.4" />
<line x1="156.7" y1="481.164" x2="156.7" y2="505.01599999999996" stroke="#2a2a2a" stroke-width="1.3" />
<line x1="153.1" y1="481.164" x2="160.29999999999998" y2="481.164" stroke="#2a2a2a" stroke-width="1.4" />
<line x1="153.1" y1="505.01599999999996" x2="160.29999999999998" y2="505.01599999999996" stroke="#2a2a2a" stroke-width="1.4" />
<line x1="188.2" y1="491.844" x2="188.2" y2="503.592" stroke="#2a2a2a" stroke-width="1.3" />
<line x1="184.6" y1="491.844" x2="191.79999999999998" y2="491.844" stroke="#2a2a2a" stroke-width="1.4" />
<line x1="184.6" y1="503.592" x2="191.79999999999998" y2="503.592" stroke="#2a2a2a" stroke-width="1.4" />
<line x1="60.5" y1="474.756" x2="60.5" y2="505.01599999999996" stroke="#2a2a2a" stroke-width="1.3" />
<line x1="56.9" y1="474.756" x2="64.1" y2="474.756" stroke="#2a2a2a" stroke-width="1.4" />
<line x1="56.9" y1="505.01599999999996" x2="64.1" y2="505.01599999999996" stroke="#2a2a2a" stroke-width="1.4" />
<line x1="84.6" y1="469.772" x2="84.6" y2="481.164" stroke="#2a2a2a" stroke-width="1.3" />
<line x1="81.0" y1="469.772" x2="88.19999999999999" y2="469.772" stroke="#2a2a2a" stroke-width="1.4" />
<line x1="81.0" y1="481.164" x2="88.19999999999999" y2="481.164" stroke="#2a2a2a" stroke-width="1.4" />
<line x1="108.6" y1="446.632" x2="108.6" y2="483.656" stroke="#2a2a2a" stroke-width="1.3" />
<line x1="105.0" y1="446.632" x2="112.19999999999999" y2="446.632" stroke="#2a2a2a" stroke-width="1.4" />
<line x1="105.0" y1="483.656" x2="112.19999999999999" y2="483.656" stroke="#2a2a2a" stroke-width="1.4" />
<line x1="132.7" y1="451.616" x2="132.7" y2="476.18" stroke="#2a2a2a" stroke-width="1.3" />
<line x1="129.1" y1="451.616" x2="136.29999999999998" y2="451.616" stroke="#2a2a2a" stroke-width="1.4" />
<line x1="129.1" y1="476.18" x2="136.29999999999998" y2="476.18" stroke="#2a2a2a" stroke-width="1.4" />
<line x1="156.7" y1="439.156" x2="156.7" y2="472.62" stroke="#2a2a2a" stroke-width="1.3" />
<line x1="153.1" y1="439.156" x2="160.29999999999998" y2="439.156" stroke="#2a2a2a" stroke-width="1.4" />
<line x1="153.1" y1="472.62" x2="160.29999999999998" y2="472.62" stroke="#2a2a2a" stroke-width="1.4" />
<line x1="188.2" y1="450.192" x2="188.2" y2="482.23199999999997" stroke="#2a2a2a" stroke-width="1.3" />
<line x1="184.6" y1="450.192" x2="191.79999999999998" y2="450.192" stroke="#2a2a2a" stroke-width="1.4" />
<line x1="184.6" y1="482.23199999999997" x2="191.79999999999998" y2="482.23199999999997" stroke="#2a2a2a" stroke-width="1.4" />
<polyline points="60.5,510.0 84.6,503.236 108.6,497.89599999999996 132.7,496.116 156.7,492.556 188.2,497.3264" fill="none" stroke="#ad062e" stroke-width="1.8"/>
<polygon points="165.20000000000002,500.0398806349206 169.6,489.0398806349206 174.4,489.0398806349206 170.00000000000003,500.0398806349206" fill="white"/>
<line x1="166.40000000000003" y1="500.0398806349206" x2="170.8" y2="489.0398806349206" stroke="#111" stroke-width="1.3" />
<line x1="168.8" y1="500.0398806349206" x2="173.2" y2="489.0398806349206" stroke="#111" stroke-width="1.3" />
<circle cx="60.5" cy="510.0" r="4" fill="#ad062e"/>
<circle cx="84.6" cy="503.236" r="4" fill="#ad062e"/>
<circle cx="108.6" cy="497.89599999999996" r="4" fill="#ad062e"/>
<circle cx="132.7" cy="496.116" r="4" fill="#ad062e"/>
<circle cx="156.7" cy="492.556" r="4" fill="#ad062e"/>
<circle cx="188.2" cy="497.3264" r="4" fill="#ad062e"/>
<polyline points="60.5,489.352 84.6,475.468 108.6,464.788 132.7,464.076 156.7,456.244 188.2,466.212" fill="none" stroke="#2d4b81" stroke-width="1.8"/>
<polygon points="165.20000000000002,465.88942222222227 169.6,454.88942222222227 174.4,454.88942222222227 170.00000000000003,465.88942222222227" fill="white"/>
<line x1="166.40000000000003" y1="465.88942222222227" x2="170.8" y2="454.88942222222227" stroke="#111" stroke-width="1.3" />
<line x1="168.8" y1="465.88942222222227" x2="173.2" y2="454.88942222222227" stroke="#111" stroke-width="1.3" />
<circle cx="60.5" cy="489.352" r="4" fill="#2d4b81"/>
<circle cx="84.6" cy="475.468" r="4" fill="#2d4b81"/>
<circle cx="108.6" cy="464.788" r="4" fill="#2d4b81"/>
<circle cx="132.7" cy="464.076" r="4" fill="#2d4b81"/>
<circle cx="156.7" cy="456.244" r="4" fill="#2d4b81"/>
<circle cx="188.2" cy="466.212" r="4" fill="#2d4b81"/>
<circle cx="56.50" cy="469.26" r="1.15" fill="#111"/>
<circle cx="60.50" cy="469.26" r="1.15" fill="#111"/>
<circle cx="64.50" cy="469.26" r="1.15" fill="#111"/>
<circle cx="80.60" cy="464.27" r="1.15" fill="#111"/>
<circle cx="84.60" cy="464.27" r="1.15" fill="#111"/>
<circle cx="88.60" cy="464.27" r="1.15" fill="#111"/>
<circle cx="104.60" cy="441.13" r="1.15" fill="#111"/>
<circle cx="108.60" cy="441.13" r="1.15" fill="#111"/>
<circle cx="112.60" cy="441.13" r="1.15" fill="#111"/>
<circle cx="128.70" cy="446.12" r="1.15" fill="#111"/>
<circle cx="132.70" cy="446.12" r="1.15" fill="#111"/>
<circle cx="136.70" cy="446.12" r="1.15" fill="#111"/>
<circle cx="152.70" cy="433.66" r="1.15" fill="#111"/>
<circle cx="156.70" cy="433.66" r="1.15" fill="#111"/>
<circle cx="160.70" cy="433.66" r="1.15" fill="#111"/>
<circle cx="186.20" cy="444.69" r="1.15" fill="#111"/>
<circle cx="190.20" cy="444.69" r="1.15" fill="#111"/>
<line x1="288.2" y1="409.2" x2="288.2" y2="519.6" stroke="#111" stroke-width="1.2" />
<line x1="285.4" y1="519.1" x2="435.3" y2="519.1" stroke="#111" stroke-width="1.2" />
<text transform="translate(282.59999999999997,521.9) scale(1,1.04)" x="0" y="0" font-size="8" text-anchor="end" font-weight="normal" font-style="normal" fill="#222" >0</text>
<line x1="285.4" y1="497.72" x2="288.2" y2="497.72" stroke="#111" stroke-width="1.1" />
<text transform="translate(282.59999999999997,500.52000000000004) scale(1,1.04)" x="0" y="0" font-size="8" text-anchor="end" font-weight="normal" font-style="normal" fill="#222" >1</text>
<line x1="285.4" y1="476.34000000000003" x2="288.2" y2="476.34000000000003" stroke="#111" stroke-width="1.1" />
<text transform="translate(282.59999999999997,479.14000000000004) scale(1,1.04)" x="0" y="0" font-size="8" text-anchor="end" font-weight="normal" font-style="normal" fill="#222" >2</text>
<line x1="285.4" y1="454.96000000000004" x2="288.2" y2="454.96000000000004" stroke="#111" stroke-width="1.1" />
<text transform="translate(282.59999999999997,457.76000000000005) scale(1,1.04)" x="0" y="0" font-size="8" text-anchor="end" font-weight="normal" font-style="normal" fill="#222" >3</text>
<line x1="285.4" y1="433.58" x2="288.2" y2="433.58" stroke="#111" stroke-width="1.1" />
<text transform="translate(282.59999999999997,436.38) scale(1,1.04)" x="0" y="0" font-size="8" text-anchor="end" font-weight="normal" font-style="normal" fill="#222" >4</text>
<line x1="285.4" y1="412.2" x2="288.2" y2="412.2" stroke="#111" stroke-width="1.1" />
<text transform="translate(282.59999999999997,415.0) scale(1,1.04)" x="0" y="0" font-size="8" text-anchor="end" font-weight="normal" font-style="normal" fill="#222" >5</text>
<line x1="303.8" y1="519.1" x2="303.8" y2="522.1" stroke="#111" stroke-width="1" />
<line x1="327.8" y1="519.1" x2="327.8" y2="522.1" stroke="#111" stroke-width="1" />
<line x1="351.8" y1="519.1" x2="351.8" y2="522.1" stroke="#111" stroke-width="1" />
<line x1="375.8" y1="519.1" x2="375.8" y2="522.1" stroke="#111" stroke-width="1" />
<line x1="399.8" y1="519.1" x2="399.8" y2="522.1" stroke="#111" stroke-width="1" />
<line x1="429.5" y1="519.1" x2="429.5" y2="522.1" stroke="#111" stroke-width="1" />
<text transform="translate(303.8,532.5) scale(1,1.04)" x="0" y="0" font-size="8.2" text-anchor="middle" font-weight="normal" font-style="normal" fill="#222" >1</text>
<text transform="translate(327.8,532.5) scale(1,1.04)" x="0" y="0" font-size="8.2" text-anchor="middle" font-weight="normal" font-style="normal" fill="#222" >2</text>
<text transform="translate(351.8,532.5) scale(1,1.04)" x="0" y="0" font-size="8.2" text-anchor="middle" font-weight="normal" font-style="normal" fill="#222" >3</text>
<text transform="translate(375.8,532.5) scale(1,1.04)" x="0" y="0" font-size="8.2" text-anchor="middle" font-weight="normal" font-style="normal" fill="#222" >4</text>
<text transform="translate(399.8,532.5) scale(1,1.04)" x="0" y="0" font-size="8.2" text-anchor="middle" font-weight="normal" font-style="normal" fill="#222" >5</text>
<text transform="translate(425.1,532.5) scale(1,1.04)" x="0" y="0" font-size="8.15" text-anchor="start" font-weight="normal" font-style="normal" fill="#222" >12 (M after BMT)</text>
<polygon points="411.40000000000003,525.6 415.8,512.6 420.59999999999997,512.6 416.2,525.6" fill="white"/>
<line x1="412.6" y1="525.6" x2="417.0" y2="512.6" stroke="#111" stroke-width="1.3" />
<line x1="415.0" y1="525.6" x2="419.4" y2="512.6" stroke="#111" stroke-width="1.3" />
<text x="0" y="0" font-size="8.6" text-anchor="middle" fill="#222" transform="translate(266.9,470.1) rotate(-90) scale(1,1.04)">Cell number</text>
<text transform="translate(272.9,400.8) scale(1,1.04)" x="0" y="0" font-size="7.5" text-anchor="start" font-weight="normal" font-style="normal" fill="#222" letter-spacing="0.3">(10<tspan font-size="5.4" dy="-2.7">3</tspan><tspan dy="2.7">/µl)</tspan></text>
<text transform="translate(363,408.3) scale(1,1.04)" x="0" y="0" font-size="9.6" text-anchor="middle" font-weight="bold" font-style="normal" fill="#222" >Thy1.2<tspan font-size="7.4" dx="0.3" dy="-2.0">+</tspan></text>
<line x1="303.8" y1="511.18940000000003" x2="303.8" y2="518.0310000000001" stroke="#2a2a2a" stroke-width="1.3" />
<line x1="300.2" y1="511.18940000000003" x2="307.40000000000003" y2="511.18940000000003" stroke="#2a2a2a" stroke-width="1.4" />
<line x1="300.2" y1="518.0310000000001" x2="307.40000000000003" y2="518.0310000000001" stroke="#2a2a2a" stroke-width="1.4" />
<line x1="327.8" y1="477.6228" x2="327.8" y2="507.1272" stroke="#2a2a2a" stroke-width="1.3" />
<line x1="324.2" y1="477.6228" x2="331.40000000000003" y2="477.6228" stroke="#2a2a2a" stroke-width="1.4" />
<line x1="324.2" y1="507.1272" x2="331.40000000000003" y2="507.1272" stroke="#2a2a2a" stroke-width="1.4" />
<line x1="351.8" y1="451.1116" x2="351.8" y2="491.7336" stroke="#2a2a2a" stroke-width="1.3" />
<line x1="348.2" y1="451.1116" x2="355.40000000000003" y2="451.1116" stroke="#2a2a2a" stroke-width="1.4" />
<line x1="348.2" y1="491.7336" x2="355.40000000000003" y2="491.7336" stroke="#2a2a2a" stroke-width="1.4" />
<line x1="375.8" y1="461.8016" x2="375.8" y2="494.29920000000004" stroke="#2a2a2a" stroke-width="1.3" />
<line x1="372.2" y1="461.8016" x2="379.40000000000003" y2="461.8016" stroke="#2a2a2a" stroke-width="1.4" />
<line x1="372.2" y1="494.29920000000004" x2="379.40000000000003" y2="494.29920000000004" stroke="#2a2a2a" stroke-width="1.4" />
<line x1="399.8" y1="457.098" x2="399.8" y2="487.03000000000003" stroke="#2a2a2a" stroke-width="1.3" />
<line x1="396.2" y1="457.098" x2="403.40000000000003" y2="457.098" stroke="#2a2a2a" stroke-width="1.4" />
<line x1="396.2" y1="487.03000000000003" x2="403.40000000000003" y2="487.03000000000003" stroke="#2a2a2a" stroke-width="1.4" />
<line x1="429.5" y1="460.5188" x2="429.5" y2="492.1612" stroke="#2a2a2a" stroke-width="1.3" />
<line x1="425.9" y1="460.5188" x2="433.1" y2="460.5188" stroke="#2a2a2a" stroke-width="1.4" />
<line x1="425.9" y1="492.1612" x2="433.1" y2="492.1612" stroke="#2a2a2a" stroke-width="1.4" />
<line x1="303.8" y1="496.651" x2="303.8" y2="510.3342" stroke="#2a2a2a" stroke-width="1.3" />
<line x1="300.2" y1="496.651" x2="307.40000000000003" y2="496.651" stroke="#2a2a2a" stroke-width="1.4" />
<line x1="300.2" y1="510.3342" x2="307.40000000000003" y2="510.3342" stroke="#2a2a2a" stroke-width="1.4" />
<line x1="327.8" y1="463.512" x2="327.8" y2="494.7268" stroke="#2a2a2a" stroke-width="1.3" />
<line x1="324.2" y1="463.512" x2="331.40000000000003" y2="463.512" stroke="#2a2a2a" stroke-width="1.4" />
<line x1="324.2" y1="494.7268" x2="331.40000000000003" y2="494.7268" stroke="#2a2a2a" stroke-width="1.4" />
<line x1="351.8" y1="468.857" x2="351.8" y2="500.49940000000004" stroke="#2a2a2a" stroke-width="1.3" />
<line x1="348.2" y1="468.857" x2="355.40000000000003" y2="468.857" stroke="#2a2a2a" stroke-width="1.4" />
<line x1="348.2" y1="500.49940000000004" x2="355.40000000000003" y2="500.49940000000004" stroke="#2a2a2a" stroke-width="1.4" />
<line x1="375.8" y1="475.0572" x2="375.8" y2="498.1476" stroke="#2a2a2a" stroke-width="1.3" />
<line x1="372.2" y1="475.0572" x2="379.40000000000003" y2="475.0572" stroke="#2a2a2a" stroke-width="1.4" />
<line x1="372.2" y1="498.1476" x2="379.40000000000003" y2="498.1476" stroke="#2a2a2a" stroke-width="1.4" />
<line x1="399.8" y1="473.13300000000004" x2="399.8" y2="501.7822" stroke="#2a2a2a" stroke-width="1.3" />
<line x1="396.2" y1="473.13300000000004" x2="403.40000000000003" y2="473.13300000000004" stroke="#2a2a2a" stroke-width="1.4" />
<line x1="396.2" y1="501.7822" x2="403.40000000000003" y2="501.7822" stroke="#2a2a2a" stroke-width="1.4" />
<line x1="429.5" y1="474.84340000000003" x2="429.5" y2="497.50620000000004" stroke="#2a2a2a" stroke-width="1.3" />
<line x1="425.9" y1="474.84340000000003" x2="433.1" y2="474.84340000000003" stroke="#2a2a2a" stroke-width="1.4" />
<line x1="425.9" y1="497.50620000000004" x2="433.1" y2="497.50620000000004" stroke="#2a2a2a" stroke-width="1.4" />
<polyline points="303.8,503.49260000000004 327.8,479.1194 351.8,484.6782 375.8,486.6024 399.8,487.4576 429.5,486.1748" fill="none" stroke="#2d4b81" stroke-width="1.8"/>
<polygon points="411.40000000000003,492.2578909090909 415.8,481.2578909090909 420.59999999999997,481.2578909090909 416.2,492.2578909090909" fill="white"/>
<line x1="412.6" y1="492.2578909090909" x2="417.0" y2="481.2578909090909" stroke="#111" stroke-width="1.3" />
<line x1="415.0" y1="492.2578909090909" x2="419.4" y2="481.2578909090909" stroke="#111" stroke-width="1.3" />
<circle cx="303.8" cy="503.49260000000004" r="4" fill="#2d4b81"/>
<circle cx="327.8" cy="479.1194" r="4" fill="#2d4b81"/>
<circle cx="351.8" cy="484.6782" r="4" fill="#2d4b81"/>
<circle cx="375.8" cy="486.6024" r="4" fill="#2d4b81"/>
<circle cx="399.8" cy="487.4576" r="4" fill="#2d4b81"/>
<circle cx="429.5" cy="486.1748" r="4" fill="#2d4b81"/>
<polyline points="303.8,514.6102000000001 327.8,492.375 351.8,471.4226 375.8,478.0504 399.8,472.064 429.5,476.34000000000003" fill="none" stroke="#ad062e" stroke-width="1.8"/>
<polygon points="411.40000000000003,479.8963636363637 415.8,468.8963636363637 420.59999999999997,468.8963636363637 416.2,479.8963636363637" fill="white"/>
<line x1="412.6" y1="479.8963636363637" x2="417.0" y2="468.8963636363637" stroke="#111" stroke-width="1.3" />
<line x1="415.0" y1="479.8963636363637" x2="419.4" y2="468.8963636363637" stroke="#111" stroke-width="1.3" />
<circle cx="303.8" cy="514.6102000000001" r="4" fill="#ad062e"/>
<circle cx="327.8" cy="492.375" r="4" fill="#ad062e"/>
<circle cx="351.8" cy="471.4226" r="4" fill="#ad062e"/>
<circle cx="375.8" cy="478.0504" r="4" fill="#ad062e"/>
<circle cx="399.8" cy="472.064" r="4" fill="#ad062e"/>
<circle cx="429.5" cy="476.34000000000003" r="4" fill="#ad062e"/>
<circle cx="301.80" cy="491.15" r="1.15" fill="#111"/>
<circle cx="305.80" cy="491.15" r="1.15" fill="#111"/>
<line x1="327.9" y1="437.1" x2="430.5" y2="437.1" stroke="#111" stroke-width="1.2" />
<text transform="translate(379.2,434) scale(1,1.04)" x="0" y="0" font-size="8" text-anchor="middle" font-weight="normal" font-style="normal" fill="#222" >ns</text>
<text transform="translate(7.6,557.4) scale(1,1.04)" x="0" y="0" font-size="11.2" text-anchor="start" font-weight="bold" font-style="normal" fill="#111" >C</text>
<line x1="44.4" y1="578.4" x2="405.6" y2="578.4" stroke="#111" stroke-width="1.7" />
<line x1="415.8" y1="578.4" x2="511.8" y2="578.4" stroke="#111" stroke-width="1.7" />
<text transform="translate(225.6,571.2) scale(1,1.04)" x="0" y="0" font-size="10" text-anchor="middle" font-weight="bold" font-style="normal" fill="#222" >Ly5.2<tspan font-size="7.4" dx="0.2" dy="-3.4">+</tspan><tspan dy="3.4"> (LT-HSCs)</tspan></text>
<rect x="285.2" y="561.8" width="11" height="10.2" fill="#ad062e"/>
<rect x="330.4" y="561.8" width="10.6" height="10.2" fill="#2d4b81"/>
<text transform="translate(299.3,570.2) scale(1,1.04)" x="0" y="0" font-size="8.2" text-anchor="start" font-weight="normal" font-style="italic" fill="#222" >Ctrl</text>
<text transform="translate(344.8,570.2) scale(1,1.04)" x="0" y="0" font-size="8.2" text-anchor="start" font-weight="normal" font-style="italic" fill="#222" >Cbl<tspan font-size="5.6" dx="0.6" dy="-3.6">Q367P</tspan></text>
<line x1="44.8" y1="604.6" x2="44.8" y2="706.4" stroke="#111" stroke-width="1.2" />
<line x1="42.0" y1="705.9" x2="205.8" y2="705.9" stroke="#111" stroke-width="1.3" />
<text transform="translate(39.0,708.8) scale(1,1.04)" x="0" y="0" font-size="8.2" text-anchor="end" font-weight="normal" font-style="normal" fill="#222" >0</text>
<line x1="42.0" y1="686.1" x2="44.8" y2="686.1" stroke="#111" stroke-width="1.1" />
<text transform="translate(39.0,689.0) scale(1,1.04)" x="0" y="0" font-size="8.2" text-anchor="end" font-weight="normal" font-style="normal" fill="#222" >5</text>
<line x1="42.0" y1="666.3" x2="44.8" y2="666.3" stroke="#111" stroke-width="1.1" />
<text transform="translate(39.0,669.1999999999999) scale(1,1.04)" x="0" y="0" font-size="8.2" text-anchor="end" font-weight="normal" font-style="normal" fill="#222" >10</text>
<line x1="42.0" y1="646.5" x2="44.8" y2="646.5" stroke="#111" stroke-width="1.1" />
<text transform="translate(39.0,649.4) scale(1,1.04)" x="0" y="0" font-size="8.2" text-anchor="end" font-weight="normal" font-style="normal" fill="#222" >15</text>
<line x1="42.0" y1="626.6999999999999" x2="44.8" y2="626.6999999999999" stroke="#111" stroke-width="1.1" />
<text transform="translate(39.0,629.5999999999999) scale(1,1.04)" x="0" y="0" font-size="8.2" text-anchor="end" font-weight="normal" font-style="normal" fill="#222" >20</text>
<line x1="42.0" y1="606.9" x2="44.8" y2="606.9" stroke="#111" stroke-width="1.1" />
<text transform="translate(39.0,609.8) scale(1,1.04)" x="0" y="0" font-size="8.2" text-anchor="end" font-weight="normal" font-style="normal" fill="#222" >25</text>
<text x="0" y="0" font-size="8.6" text-anchor="middle" fill="#222" transform="translate(23.599999999999998,655.5) rotate(-90) scale(1,1.04)">Cell number</text>
<text transform="translate(21.199999999999996,597.6) scale(1,1.04)" x="0" y="0" font-size="8" text-anchor="start" font-weight="normal" font-style="normal" fill="#222" >(<tspan font-size="8.4">×</tspan> 10<tspan font-size="5.6" dy="-2.8">3</tspan><tspan dy="2.8">)</tspan></text>
<text transform="translate(125.5,598.4) scale(1,1.04)" x="0" y="0" font-size="9.8" text-anchor="middle" font-weight="bold" font-style="normal" fill="#222" >PB</text>
<line x1="64.05" y1="694.812" x2="64.05" y2="699.9599999999999" stroke="#2a2a2a" stroke-width="1.2" />
<line x1="60.449999999999996" y1="694.812" x2="67.64999999999999" y2="694.812" stroke="#2a2a2a" stroke-width="1.3" />
<rect x="54.4" y="699.9599999999999" width="19.3" height="5.940000000000055" fill="#ad062e" stroke="#8e0626" stroke-width="0.6"/>
<line x1="83.35000000000001" y1="667.092" x2="83.35000000000001" y2="672.834" stroke="#2a2a2a" stroke-width="1.2" />
<line x1="79.75000000000001" y1="667.092" x2="86.95" y2="667.092" stroke="#2a2a2a" stroke-width="1.3" />
<rect x="73.7" y="672.834" width="19.3" height="33.06600000000003" fill="#2d4b81" stroke="#22396a" stroke-width="0.6"/>
<line x1="63.8" y1="659.8" x2="83.2" y2="659.8" stroke="#111" stroke-width="1.4" />
<circle cx="71.50" cy="653.80" r="1.15" fill="#111"/>
<circle cx="75.50" cy="653.80" r="1.15" fill="#111"/>
<text transform="translate(73.7,719.6) scale(1,1.04)" x="0" y="0" font-size="8.3" text-anchor="middle" font-weight="normal" font-style="normal" fill="#222" >Mac1<tspan font-size="5.5" dy="-3">+</tspan></text>
<line x1="116.55000000000001" y1="687.09" x2="116.55000000000001" y2="689.7828" stroke="#2a2a2a" stroke-width="1.2" />
<line x1="112.95000000000002" y1="687.09" x2="120.15" y2="687.09" stroke="#2a2a2a" stroke-width="1.3" />
<rect x="106.9" y="689.7828" width="19.3" height="16.117200000000025" fill="#ad062e" stroke="#8e0626" stroke-width="0.6"/>
<line x1="135.85" y1="629.076" x2="135.85" y2="642.144" stroke="#2a2a2a" stroke-width="1.2" />
<line x1="132.25" y1="629.076" x2="139.45" y2="629.076" stroke="#2a2a2a" stroke-width="1.3" />
<rect x="126.2" y="642.144" width="19.3" height="63.75599999999997" fill="#2d4b81" stroke="#22396a" stroke-width="0.6"/>
<line x1="116.6" y1="617.9" x2="135.8" y2="617.9" stroke="#111" stroke-width="1.4" />
<circle cx="124.20" cy="611.90" r="1.15" fill="#111"/>
<circle cx="128.20" cy="611.90" r="1.15" fill="#111"/>
<text transform="translate(126.2,719.6) scale(1,1.04)" x="0" y="0" font-size="8.3" text-anchor="middle" font-weight="normal" font-style="normal" fill="#222" >B220<tspan font-size="5.5" dy="-3">+</tspan></text>
<line x1="167.35" y1="692.04" x2="167.35" y2="696.9504" stroke="#2a2a2a" stroke-width="1.2" />
<line x1="163.75" y1="692.04" x2="170.95" y2="692.04" stroke="#2a2a2a" stroke-width="1.3" />
<rect x="157.7" y="696.9504" width="19.3" height="8.949600000000032" fill="#ad062e" stroke="#8e0626" stroke-width="0.6"/>
<line x1="186.65" y1="693.228" x2="186.65" y2="698.2572" stroke="#2a2a2a" stroke-width="1.2" />
<line x1="183.05" y1="693.228" x2="190.25" y2="693.228" stroke="#2a2a2a" stroke-width="1.3" />
<rect x="177.0" y="698.2572" width="19.3" height="7.642799999999966" fill="#2d4b81" stroke="#22396a" stroke-width="0.6"/>
<line x1="166.9" y1="685.7" x2="185.8" y2="685.7" stroke="#111" stroke-width="1.4" />
<text transform="translate(176.35000000000002,684.0) scale(1,1.04)" x="0" y="0" font-size="8" text-anchor="middle" font-weight="normal" font-style="normal" fill="#222" >ns</text>
<text transform="translate(177.0,719.6) scale(1,1.04)" x="0" y="0" font-size="8.3" text-anchor="middle" font-weight="normal" font-style="normal" fill="#222" >Thy1.2<tspan font-size="5.5" dy="-3">+</tspan></text>
<line x1="244.6" y1="604.6" x2="244.6" y2="706.4" stroke="#111" stroke-width="1.2" />
<line x1="241.79999999999998" y1="705.9" x2="406.2" y2="705.9" stroke="#111" stroke-width="1.3" />
<text transform="translate(238.79999999999998,708.8) scale(1,1.04)" x="0" y="0" font-size="8.2" text-anchor="end" font-weight="normal" font-style="normal" fill="#222" >0</text>
<line x1="241.79999999999998" y1="686.1" x2="244.6" y2="686.1" stroke="#111" stroke-width="1.1" />
<text transform="translate(238.79999999999998,689.0) scale(1,1.04)" x="0" y="0" font-size="8.2" text-anchor="end" font-weight="normal" font-style="normal" fill="#222" >5</text>
<line x1="241.79999999999998" y1="666.3" x2="244.6" y2="666.3" stroke="#111" stroke-width="1.1" />
<text transform="translate(238.79999999999998,669.1999999999999) scale(1,1.04)" x="0" y="0" font-size="8.2" text-anchor="end" font-weight="normal" font-style="normal" fill="#222" >10</text>
<line x1="241.79999999999998" y1="646.5" x2="244.6" y2="646.5" stroke="#111" stroke-width="1.1" />
<text transform="translate(238.79999999999998,649.4) scale(1,1.04)" x="0" y="0" font-size="8.2" text-anchor="end" font-weight="normal" font-style="normal" fill="#222" >15</text>
<line x1="241.79999999999998" y1="626.6999999999999" x2="244.6" y2="626.6999999999999" stroke="#111" stroke-width="1.1" />
<text transform="translate(238.79999999999998,629.5999999999999) scale(1,1.04)" x="0" y="0" font-size="8.2" text-anchor="end" font-weight="normal" font-style="normal" fill="#222" >20</text>
<line x1="241.79999999999998" y1="606.9" x2="244.6" y2="606.9" stroke="#111" stroke-width="1.1" />
<text transform="translate(238.79999999999998,609.8) scale(1,1.04)" x="0" y="0" font-size="8.2" text-anchor="end" font-weight="normal" font-style="normal" fill="#222" >25</text>
<text x="0" y="0" font-size="8.6" text-anchor="middle" fill="#222" transform="translate(223.4,655.5) rotate(-90) scale(1,1.04)">Cell number</text>
<text transform="translate(221.0,597.6) scale(1,1.04)" x="0" y="0" font-size="8" text-anchor="start" font-weight="normal" font-style="normal" fill="#222" >(<tspan font-size="8.4">×</tspan> 10<tspan font-size="5.6" dy="-2.8">6</tspan><tspan dy="2.8">)</tspan></text>
<text transform="translate(325.8,598.4) scale(1,1.04)" x="0" y="0" font-size="9.8" text-anchor="middle" font-weight="bold" font-style="normal" fill="#222" >Spleen</text>
<line x1="264.05" y1="697.188" x2="264.05" y2="701.3063999999999" stroke="#2a2a2a" stroke-width="1.2" />
<line x1="260.45" y1="697.188" x2="267.65000000000003" y2="697.188" stroke="#2a2a2a" stroke-width="1.3" />
<rect x="254.4" y="701.3063999999999" width="19.3" height="4.593600000000038" fill="#ad062e" stroke="#8e0626" stroke-width="0.6"/>
<line x1="283.34999999999997" y1="685.7832" x2="283.34999999999997" y2="690.5748" stroke="#2a2a2a" stroke-width="1.2" />
<line x1="279.74999999999994" y1="685.7832" x2="286.95" y2="685.7832" stroke="#2a2a2a" stroke-width="1.3" />
<rect x="273.7" y="690.5748" width="19.3" height="15.325199999999995" fill="#2d4b81" stroke="#22396a" stroke-width="0.6"/>
<line x1="264" y1="676.9" x2="283.2" y2="676.9" stroke="#111" stroke-width="1.4" />
<circle cx="273.60" cy="670.90" r="1.15" fill="#111"/>
<text transform="translate(273.7,719.6) scale(1,1.04)" x="0" y="0" font-size="8.3" text-anchor="middle" font-weight="normal" font-style="normal" fill="#222" >Mac1<tspan font-size="5.5" dy="-3">+</tspan></text>
<line x1="316.54999999999995" y1="672.3588" x2="316.54999999999995" y2="680.4372" stroke="#2a2a2a" stroke-width="1.2" />
<line x1="312.94999999999993" y1="672.3588" x2="320.15" y2="672.3588" stroke="#2a2a2a" stroke-width="1.3" />
<rect x="306.9" y="680.4372" width="19.3" height="25.462800000000016" fill="#ad062e" stroke="#8e0626" stroke-width="0.6"/>
<line x1="335.84999999999997" y1="629.076" x2="335.84999999999997" y2="642.4212" stroke="#2a2a2a" stroke-width="1.2" />
<line x1="332.24999999999994" y1="629.076" x2="339.45" y2="629.076" stroke="#2a2a2a" stroke-width="1.3" />
<rect x="326.2" y="642.4212" width="19.3" height="63.47879999999998" fill="#2d4b81" stroke="#22396a" stroke-width="0.6"/>
<line x1="316.8" y1="620.6" x2="335.8" y2="620.6" stroke="#111" stroke-width="1.4" />
<circle cx="324.30" cy="614.60" r="1.15" fill="#111"/>
<circle cx="328.30" cy="614.60" r="1.15" fill="#111"/>
<text transform="translate(326.2,719.6) scale(1,1.04)" x="0" y="0" font-size="8.3" text-anchor="middle" font-weight="normal" font-style="normal" fill="#222" >B220<tspan font-size="5.5" dy="-3">+</tspan></text>
<line x1="367.65" y1="689.268" x2="367.65" y2="693.228" stroke="#2a2a2a" stroke-width="1.2" />
<line x1="364.04999999999995" y1="689.268" x2="371.25" y2="689.268" stroke="#2a2a2a" stroke-width="1.3" />
<rect x="358" y="693.228" width="19.3" height="12.672000000000025" fill="#ad062e" stroke="#8e0626" stroke-width="0.6"/>
<line x1="386.95" y1="690.06" x2="386.95" y2="692.5548" stroke="#2a2a2a" stroke-width="1.2" />
<line x1="383.34999999999997" y1="690.06" x2="390.55" y2="690.06" stroke="#2a2a2a" stroke-width="1.3" />
<rect x="377.3" y="692.5548" width="19.3" height="13.345199999999977" fill="#2d4b81" stroke="#22396a" stroke-width="0.6"/>
<line x1="368.5" y1="682" x2="387.4" y2="682" stroke="#111" stroke-width="1.4" />
<text transform="translate(377.95,680.3) scale(1,1.04)" x="0" y="0" font-size="8" text-anchor="middle" font-weight="normal" font-style="normal" fill="#222" >ns</text>
<text transform="translate(377.3,719.6) scale(1,1.04)" x="0" y="0" font-size="8.3" text-anchor="middle" font-weight="normal" font-style="normal" fill="#222" >Thy1.2<tspan font-size="5.5" dy="-3">+</tspan></text>
<text transform="translate(463.4,573) scale(1,1.04)" x="0" y="0" font-size="9.6" text-anchor="middle" font-weight="bold" font-style="normal" fill="#222" >Spleen</text>
<text transform="translate(434.4,598.3) scale(1,1.04)" x="0" y="0" font-size="10" text-anchor="middle" font-weight="bold" font-style="italic" fill="#111" >Ctrl</text>
<text transform="translate(470.8,598.3) scale(1,1.04)" x="0" y="0" font-size="10" text-anchor="start" font-weight="bold" font-style="italic" fill="#111" >Cbl<tspan font-size="7.2" dx="0.8" dy="-4.4">Q367P</tspan></text>
<defs>
<linearGradient id="bg" x1="0" y1="0" x2="0" y2="1"><stop offset="0" stop-color="#ffffff"/><stop offset="0.2" stop-color="#fbf9f0"/><stop offset="0.5" stop-color="#f8f5e8"/><stop offset="1" stop-color="#f6f1e0"/></linearGradient>
<linearGradient id="bgx" x1="0" y1="0" x2="1" y2="0"><stop offset="0" stop-color="#fff" stop-opacity="0.6"/><stop offset="0.08" stop-color="#fff" stop-opacity="0"/><stop offset="0.92" stop-color="#fff" stop-opacity="0"/><stop offset="1" stop-color="#fff" stop-opacity="0.5"/></linearGradient>
<filter id="bl" x="-20%" y="-20%" width="140%" height="140%"><feGaussianBlur stdDeviation="0.7"/></filter>
<filter id="bl2" x="-20%" y="-20%" width="140%" height="140%"><feGaussianBlur stdDeviation="0.45"/></filter>
</defs>
<rect x="415" y="604" width="98.5" height="106" fill="url(#bg)"/>
<rect x="415" y="604" width="98.5" height="106" fill="url(#bgx)"/>
<path filter="url(#bl2)" d="M432.8,635.9 C436,635 440,634.6 442.7,634.9 C444.4,636 444.4,638 444.2,639.9 C443.8,643 443.4,646.5 443.2,649.8 C442.7,653 442.2,656.5 442.2,659.6 C442.2,663 442.4,666 442.7,669.5 C443.1,673 443.8,676.5 443.7,679.4 C443.6,683 443.4,686.5 442.7,689.3 C442,692 441,694.5 439.8,696.2 C438.6,697.6 437.2,698.2 435.8,698.1 C434.2,697.8 432.8,696 431.9,694.2 C430.5,691 429.5,687.5 428.9,684.3 C428,681 427.6,677.5 427.4,674.4 C427,671 426.8,668 426.9,664.6 C427,661.3 427.4,658 427.9,654.7 C428.3,651.3 428.8,648 429.4,644.8 C429.8,642.5 430.2,640.5 430.9,638.9 C431.4,637.5 432,636.5 432.8,635.9 Z" fill="#3c121a"/>
<path filter="url(#bl2)" d="M428,650 C428.5,660 428,672 429.5,684 C430.5,690 432.5,695 435,697 C431,694 429.2,688 428.6,682 C427.6,672 427.4,660 428,650 Z" fill="#621a2a" opacity="0.8"/>
<g filter="url(#bl2)">
<path d="M434.2,642.2 C437,641.2 441,640.8 443.6,641.2 C443.8,643 443.5,645 443.2,645.8 C440,646.6 437,646.8 434.6,646.4 C434,645 433.9,643.5 434.2,642.2 Z" fill="#d9d2d1" opacity="0.8"/>
<path d="M436,651.5 C438,649.5 440.5,648.2 441.8,648.6 C441.8,650.5 440.5,652.8 438.5,654.2 C437.2,654.8 436.2,653.5 436,651.5 Z" fill="#d2cbca" opacity="0.75"/>
<path d="M435,658.5 C436.8,656.2 439.5,654.8 440.8,655.4 C440.6,657.8 439.2,660.5 437.2,661.8 C435.8,662.2 434.9,660.5 435,658.5 Z" fill="#cfc7c6" opacity="0.7"/>
<path d="M434,675.2 C436.8,674 440.3,675.2 441.5,678.4 C442,681.5 440.8,684.6 438.4,685.4 C436,685.4 434,682.6 433.4,679.6 C433.2,677.8 433.4,676.2 434,675.2 Z" fill="#e8e3e0" opacity="0.92"/>
<path d="M436.8,678.5 C438.2,679 438.8,680.6 438.2,682 C437.2,682 436.5,680.5 436.8,678.5 Z" fill="#7a5a5e" opacity="0.5"/>
</g>
<path filter="url(#bl2)" d="M478.1,621.6 C480.5,619.8 483,619 485.7,618.8 C488.8,618.7 492,619.2 494.5,620.3 C496.3,621.8 496.8,624 496.4,626.6 C496,631 495.6,635 495.1,639.2 C494.6,643.5 494,647.5 493.9,651.9 C493.8,655.5 494,659 494.5,661.9 C495.2,664.8 496.5,667 497.7,669.5 C498.8,672 499.4,674.5 499.5,677.1 C499.6,679.6 499.4,682.2 498.9,684.7 C498.4,687.2 497.8,689.8 497,692.2 C495.9,694.6 494.6,696.8 493.2,698.5 C491.6,700.2 490,701 488.2,701.1 C486.4,701.2 484.6,700.8 483.1,699.8 C481.6,698.3 480.3,695.5 479.4,692.2 C478.3,688 477.4,684 476.8,679.6 C476.2,675.5 475.8,671.3 475.6,667 C475.2,662 475,657 474.9,651.9 C474.9,646.8 475.2,641.8 475.6,636.7 C475.8,633.3 476,630 476.2,626.6 C476.5,624.6 477.2,622.8 478.1,621.6 Z" fill="#381118"/>
<path filter="url(#bl2)" d="M476,640 C475.5,655 476,670 477.5,682 C478.5,690 480.5,697 484,700 C480,698.5 478.2,692 477.2,684 C475.5,670 475.2,655 476,640 Z" fill="#5e1a28" opacity="0.8"/>
<g filter="url(#bl)">
<path d="M480.6,627.5 C484,624.8 489,624.8 493,626.8 C494.5,630 494.3,635 493,639 C491.8,643 489.6,646.5 487,647.8 C484.3,648.4 481.6,646.8 480.7,644 C481.8,641 479.8,638 479.6,634.5 C479.5,631.8 479.8,629.3 480.6,627.5 Z" fill="#dcd7d5" opacity="0.82"/>
<path d="M483.5,629.2 C485.8,628.5 488,630 487.6,632.2 C486.6,634 484.4,633.7 483.8,631.8 Z" fill="#3a0e14" opacity="0.75"/>
<path d="M486.5,636 C488.5,635.5 490,637.2 489.4,639.2 C488.4,640.3 486.8,639.8 486.4,638.2 Z" fill="#4a2026" opacity="0.6"/>
<path d="M481.2,657 C483.5,655.8 487.2,656.2 489.4,658.2 C490,660.8 488,663.2 485.4,663.8 C483,664 481.2,662.4 480.7,660.3 Z" fill="#c2bab9" opacity="0.75"/>
<path d="M487.6,676 C490.2,675 493.8,676.6 495,679.8 C495.4,682.5 494.2,685 492,685 C489.6,684.5 487.8,681.6 487.3,679 Z" fill="#e3dedb" opacity="0.9"/>
</g>
<rect x="0" y="0" width="520" height="1.2" fill="#000"/>
<rect x="0" y="0" width="1.5" height="729" fill="#000"/>
<rect x="518.5" y="0" width="1.5" height="729" fill="#000"/>
<rect x="0" y="727.5" width="520" height="1.5" fill="#000"/>
</svg>
</body></html>
